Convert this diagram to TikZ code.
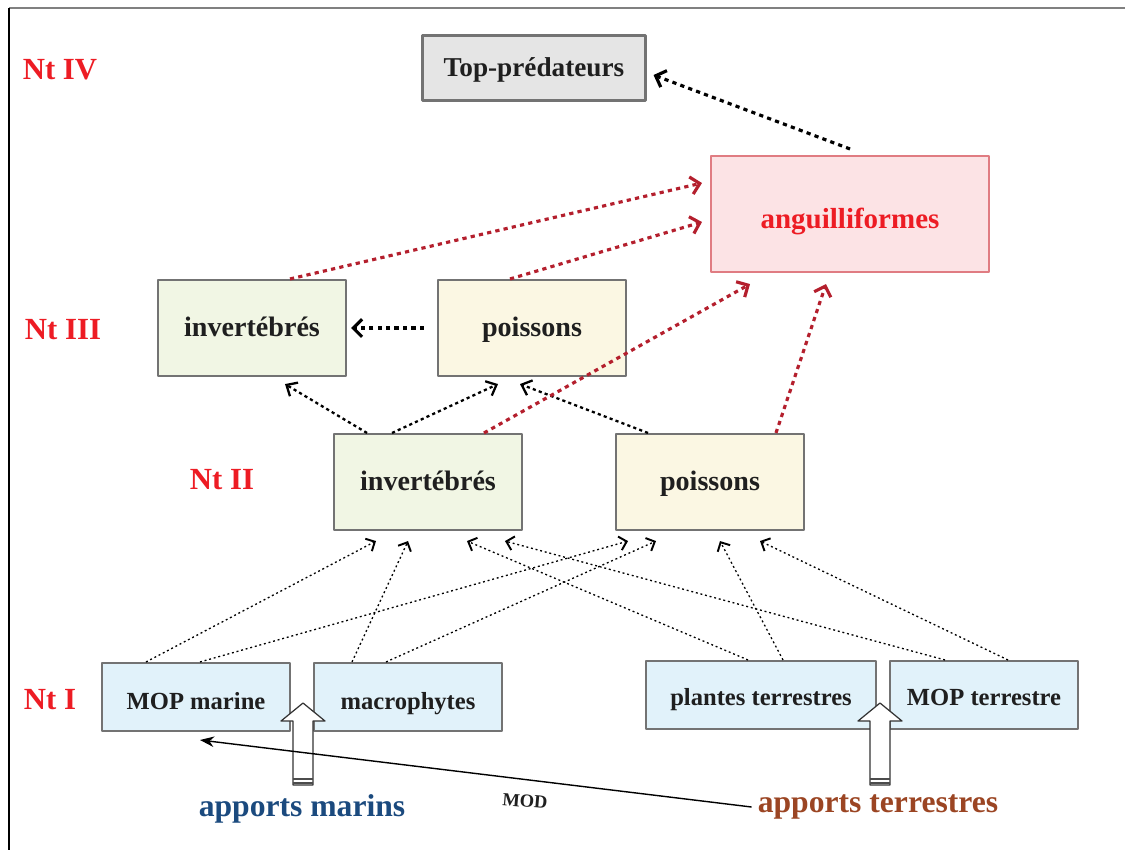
\documentclass[tikz,border=0pt]{standalone}
\usepackage{fontspec}
\setmainfont{Liberation Serif}
\usetikzlibrary{arrows.meta}
\definecolor{ntred}{HTML}{ED1C24}
\definecolor{darkred}{HTML}{B41F2D}
\definecolor{fillgreen}{HTML}{F1F6E4}
\definecolor{fillyellow}{HTML}{FBF7E3}
\definecolor{fillblue}{HTML}{E1F2FA}
\definecolor{fillpink}{HTML}{FCE3E5}
\definecolor{edgepink}{HTML}{E07C82}
\definecolor{marinblue}{HTML}{1B4A7E}
\definecolor{terrbrown}{HTML}{9B4523}
\tikzset{
  box/.style={draw=black!55, line width=1.2pt, minimum width=3.76cm, minimum height=1.92cm,
    text height=12pt, text depth=2pt, text=black!88, font=\fontsize{16}{18}\selectfont\bfseries},
  lowbox/.style={box, fill=fillblue, minimum height=1.36cm, text height=11.5pt, text depth=0pt,
    font=\fontsize{14}{16}\selectfont\bfseries},
  level/.style={text=ntred, font=\fontsize{17.5}{20}\selectfont\bfseries},
  thinarr/.style={line width=0.75pt, dash pattern=on 1.1pt off 1.6pt, -{Straight Barb[length=4pt,width=8pt,line width=1.1pt]}},
  midarr/.style={line width=1.3pt, dash pattern=on 1.8pt off 1.8pt, -{Straight Barb[length=5pt,width=9pt]}},
  redarr/.style={darkred, line width=1.8pt, dash pattern=on 2.4pt off 2.4pt, -{Straight Barb[length=5pt,width=10pt]}},
  blackarr/.style={line width=1.8pt, dash pattern=on 2.4pt off 2.4pt, -{Straight Barb[length=5pt,width=10pt]}}
}
\begin{document}
\begin{tikzpicture}[x=0.02cm, y=-0.02cm, line join=round]
\useasboundingbox (0,0) rectangle (1125,850);
\draw[black!50, line width=0.8pt] (9,8) -- (1125,8);
\draw[line width=0.6pt] (9,8) -- (9,850);
% levels
\node[level] (n4) at (60,70) {Nt IV};
\node[level] (n3) at (63,330) {Nt III};
\node[level] (n2) at (222,480) {Nt II};
\node[level] (n1) at (50,700) {Nt I};
% boxes
\node[box, fill=black!10, minimum width=4.46cm, minimum height=1.3cm, font=\fontsize{15.5}{18}\selectfont\bfseries] (top) at (534,68) {Top-prédateurs};
\node[box, fill=fillpink, draw=edgepink, minimum width=5.56cm, minimum height=2.32cm, text height=16pt, text depth=0pt,
  text=ntred, font=\fontsize{16.5}{19}\selectfont\bfseries] (angu) at (850,214) {anguilliformes};
\node[box, fill=fillgreen] (inv3) at (252,328) {invertébrés};
\node[box, fill=fillyellow] (poi3) at (532,328) {poissons};
\node[box, fill=fillgreen] (inv2) at (428,482) {invertébrés};
\node[box, fill=fillyellow] (poi2) at (710,482) {poissons};
\node[lowbox, text height=14.5pt] (mopm) at (196,697) {MOP marine};
\node[lowbox, text height=14.5pt] (macro) at (408,697) {macrophytes};
\node[lowbox, minimum width=4.6cm] (plant) at (761,695) {plantes terrestres\hspace{0.3cm}};
\node[lowbox] (mopt) at (984,695) {MOP terrestre};
\node[text=marinblue, font=\fontsize{18}{20}\selectfont\bfseries] (apmar) at (302,809) {apports marins};
\node[text=terrbrown, font=\fontsize{18}{20}\selectfont\bfseries] (apterr) at (878,807) {apports terrestres};
% Nt I -> Nt II
\foreach \a/\sa/\b/\sb in {mopm/-1.0/inv2/-1.04, mopm/0.08/poi2/-1.64, macro/-1.12/inv2/-0.4, macro/-0.44/poi2/-1.08,
  plant/-0.26/inv2/0.78, plant/0.44/poi2/0.2, mopt/-0.78/inv2/1.54, mopt/0.48/poi2/1.0}
  \draw[thinarr] ([xshift=\sa cm]\a.north) -- ([xshift=\sb cm, yshift=-0.2cm]\b.south);
% Nt II -> Nt III
\draw[midarr] ([xshift=-1.22cm]inv2.north) -- ([xshift=0.66cm, yshift=-0.14cm]inv3.south);
\draw[midarr] ([xshift=-0.72cm]inv2.north) -- ([xshift=-0.68cm, yshift=-0.14cm]poi3.south);
\draw[midarr] ([xshift=-1.24cm]poi2.north) -- ([xshift=-0.24cm, yshift=-0.14cm]poi3.south);
\draw[blackarr] ([xshift=-0.26cm]poi3.west) -- ([xshift=0.08cm]inv3.east);
% vers anguilliformes
\draw[redarr] ([xshift=0.76cm]inv3.north) -- ([xshift=-0.16cm, yshift=0.62cm]angu.west);
\draw[redarr] ([xshift=-0.44cm]poi3.north) -- ([xshift=-0.16cm, yshift=-0.16cm]angu.west);
\draw[redarr] ([xshift=1.12cm]inv2.north) -- ([xshift=-2cm, yshift=-0.22cm]angu.south);
\draw[redarr] ([xshift=1.32cm]poi2.north) -- ([xshift=-0.48cm, yshift=-0.22cm]angu.south);
\draw[blackarr] ([yshift=0.12cm]angu.north) -- ([xshift=0.14cm, yshift=-0.14cm]top.east);
% apports
\foreach \x in {303,880} {
  \draw[black!80, fill=white, line width=0.7pt] (\x-10,785) -- (\x-10,721) -- (\x-22,721) -- (\x,703)
    -- (\x+22,721) -- (\x+10,721) -- (\x+10,785) -- cycle;
  \draw[black!70, line width=1pt] (\x-10,779) -- (\x+10,779) (\x-10,783) -- (\x+10,783);
}
\coordinate (modend) at (200,740);
\draw[line width=0.8pt, -{Stealth[length=8pt,width=6pt]}] (apterr.west) -- (modend);
\node[rotate=-5, font=\fontsize{10.5}{12}\selectfont\bfseries, text=black!88] (mod) at (525,801) {MOD};
\end{tikzpicture}
\end{document}
